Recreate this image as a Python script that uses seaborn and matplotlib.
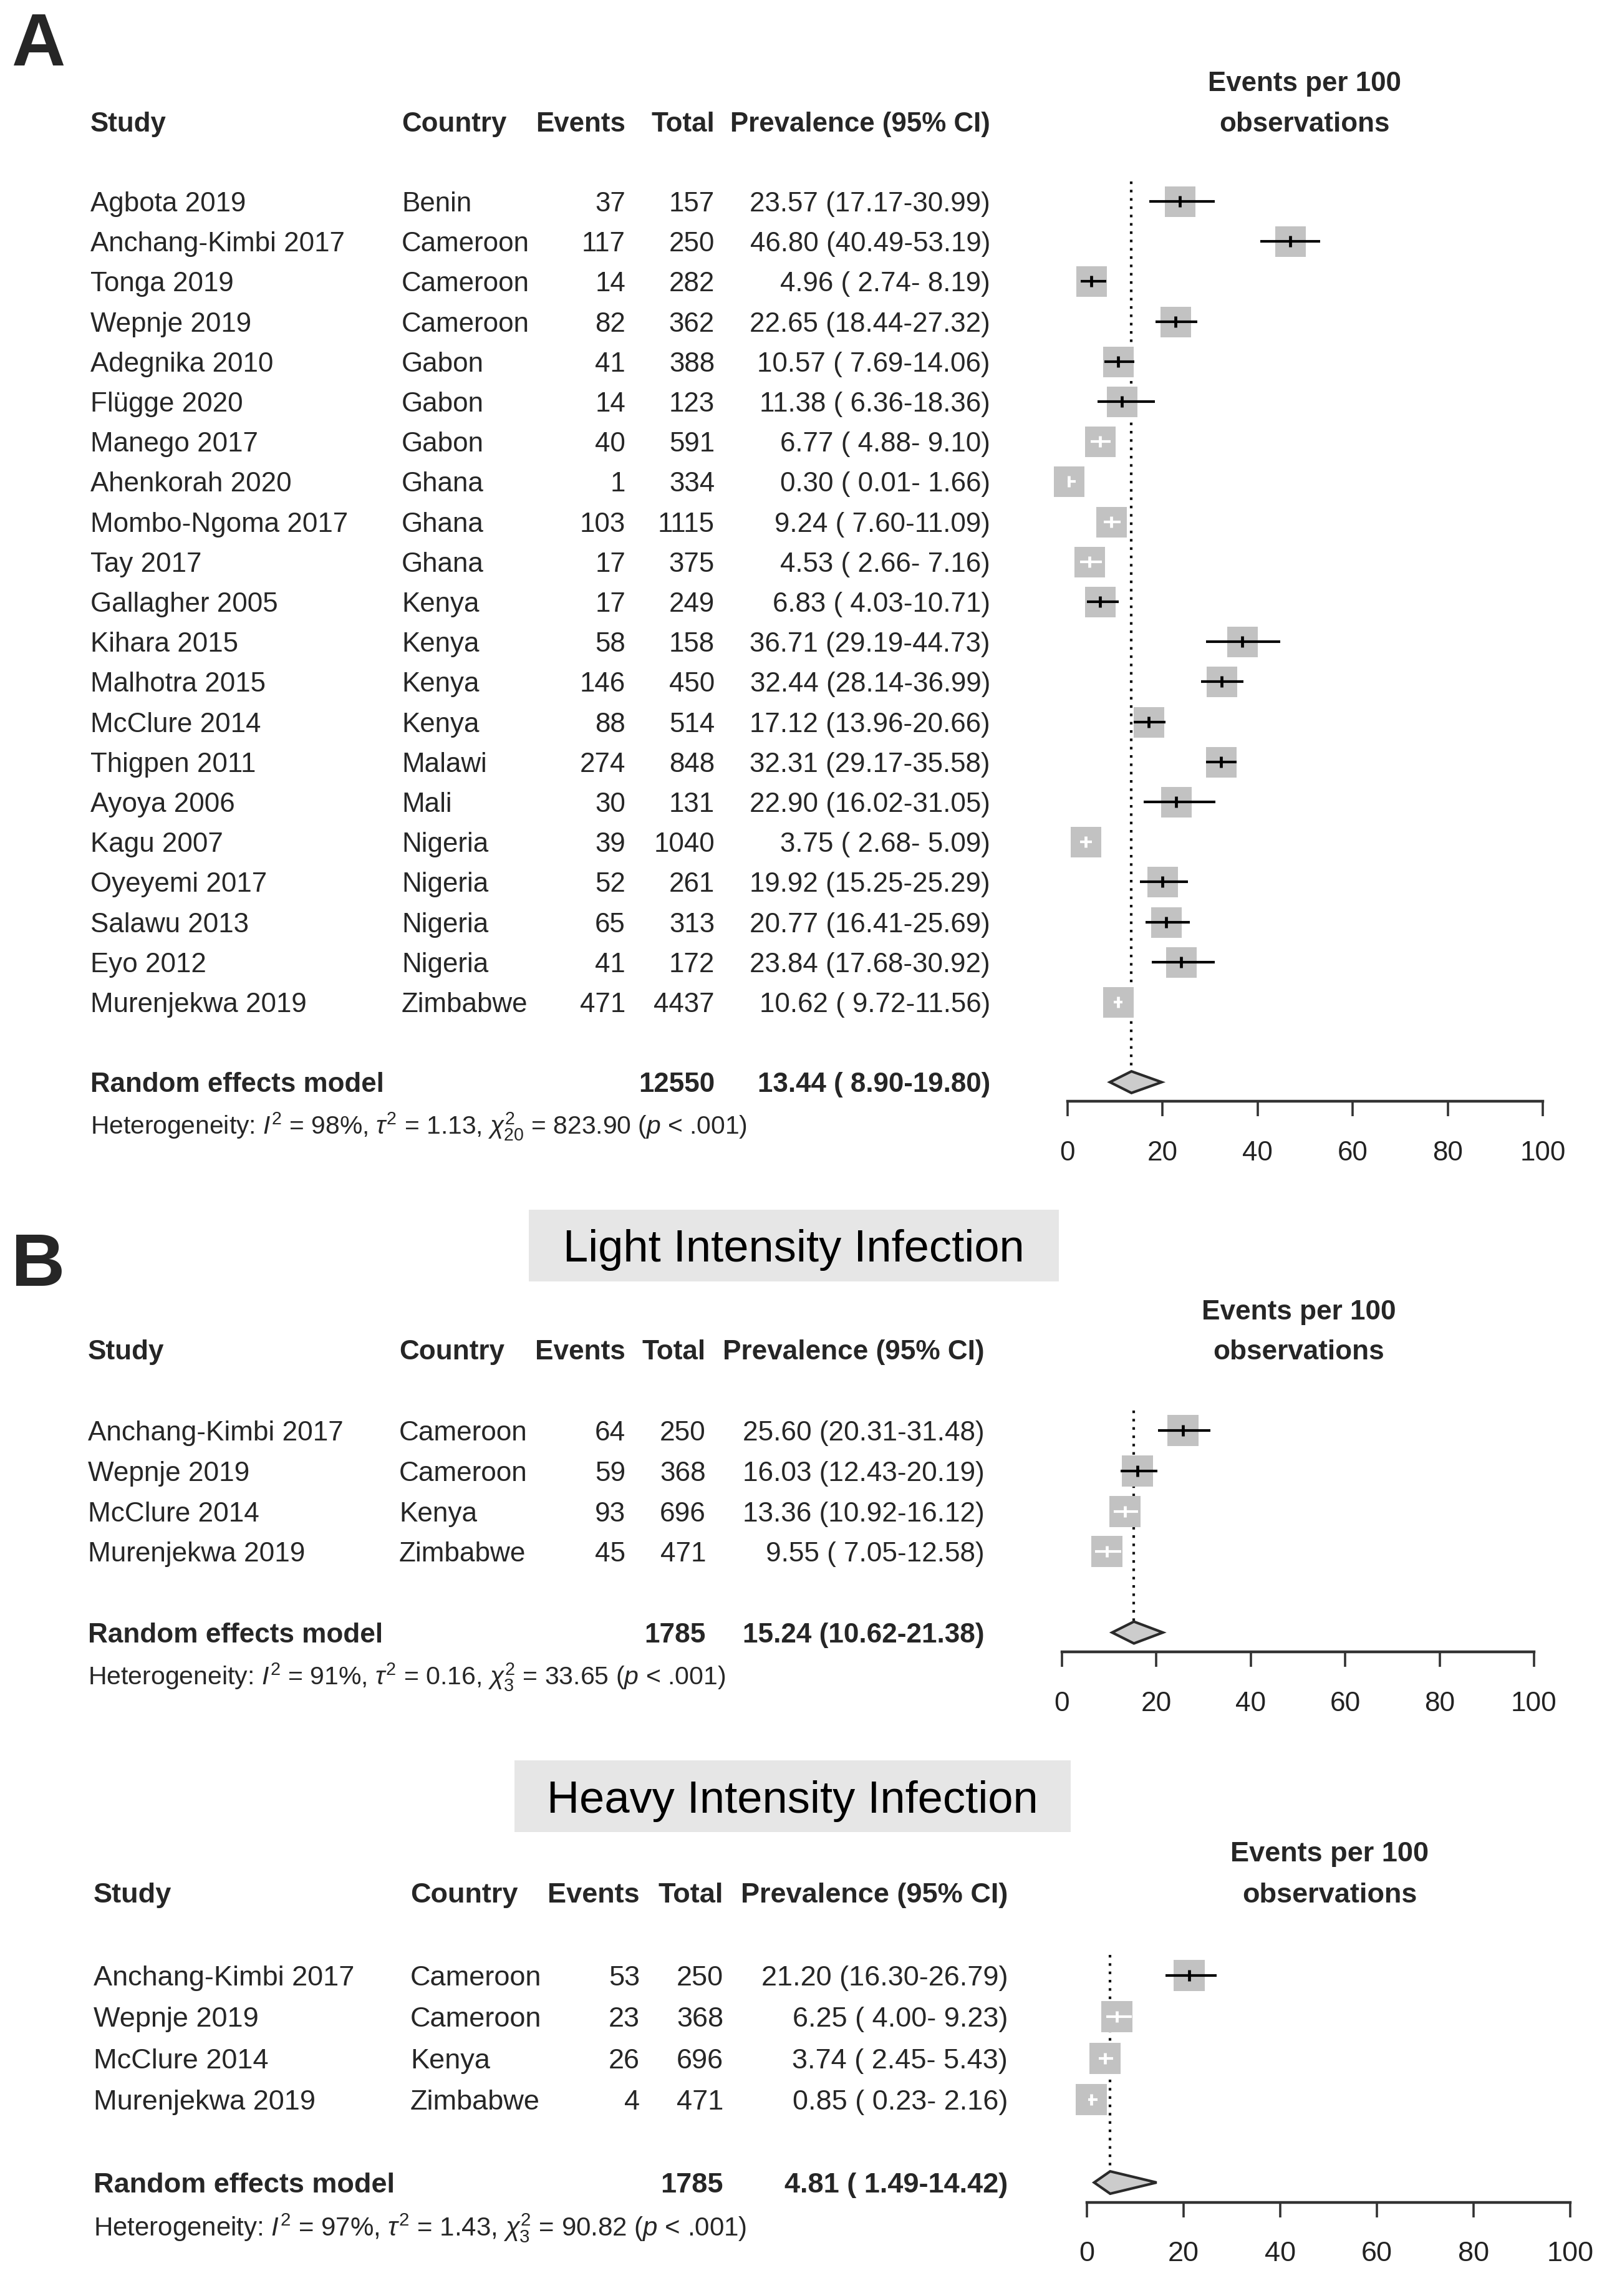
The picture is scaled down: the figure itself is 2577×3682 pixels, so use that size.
import matplotlib
matplotlib.use("Agg")
import matplotlib.pyplot as plt
import matplotlib.transforms as mtransforms
from matplotlib.patches import Rectangle
import seaborn as sns
import pandas as pd


# ==================================================
# Data: panel A (all infections)
# ==================================================

a_study = ["Agbota 2019", "Anchang-Kimbi 2017", "Tonga 2019", "Wepnje 2019",
           "Adegnika 2010", "Flügge 2020", "Manego 2017", "Ahenkorah 2020",
           "Mombo-Ngoma 2017", "Tay 2017", "Gallagher 2005", "Kihara 2015",
           "Malhotra 2015", "McClure 2014", "Thigpen 2011", "Ayoya 2006",
           "Kagu 2007", "Oyeyemi 2017", "Salawu 2013", "Eyo 2012",
           "Murenjekwa 2019"]
a_country = ["Benin", "Cameroon", "Cameroon", "Cameroon", "Gabon", "Gabon",
             "Gabon", "Ghana", "Ghana", "Ghana", "Kenya", "Kenya", "Kenya",
             "Kenya", "Malawi", "Mali", "Nigeria", "Nigeria", "Nigeria",
             "Nigeria", "Zimbabwe"]
a_events = [37, 117, 14, 82, 41, 14, 40, 1, 103, 17, 17, 58, 146, 88, 274,
            30, 39, 52, 65, 41, 471]
a_total = [157, 250, 282, 362, 388, 123, 591, 334, 1115, 375, 249, 158, 450,
           514, 848, 131, 1040, 261, 313, 172, 4437]
a_prev = [23.57, 46.80, 4.96, 22.65, 10.57, 11.38, 6.77, 0.30, 9.24, 4.53,
          6.83, 36.71, 32.44, 17.12, 32.31, 22.90, 3.75, 19.92, 20.77, 23.84,
          10.62]
a_lower = [17.17, 40.49, 2.74, 18.44, 7.69, 6.36, 4.88, 0.01, 7.60, 2.66,
           4.03, 29.19, 28.14, 13.96, 29.17, 16.02, 2.68, 15.25, 16.41, 17.68,
           9.72]
a_upper = [30.99, 53.19, 8.19, 27.32, 14.06, 18.36, 9.10, 1.66, 11.09, 7.16,
           10.71, 44.73, 36.99, 20.66, 35.58, 31.05, 5.09, 25.29, 25.69, 30.92,
           11.56]
a_pooled = [13.44, 8.90, 19.80]
a_pooled_total = 12550
a_het = r"Heterogeneity: $I^2$ = 98%, $\tau^2$ = 1.13, $\chi^2_{20}$ = 823.90 ($p$ < .001)"

# ==================================================
# Data: panel B (light / heavy intensity)
# ==================================================

b_study = ["Anchang-Kimbi 2017", "Wepnje 2019", "McClure 2014", "Murenjekwa 2019"]
b_country = ["Cameroon", "Cameroon", "Kenya", "Zimbabwe"]

light_events = [64, 59, 93, 45]
light_total = [250, 368, 696, 471]
light_prev = [25.60, 16.03, 13.36, 9.55]
light_lower = [20.31, 12.43, 10.92, 7.05]
light_upper = [31.48, 20.19, 16.12, 12.58]
light_pooled = [15.24, 10.62, 21.38]
light_pooled_total = 1785
light_het = r"Heterogeneity: $I^2$ = 91%, $\tau^2$ = 0.16, $\chi^2_{3}$ = 33.65 ($p$ < .001)"

heavy_events = [53, 23, 26, 4]
heavy_total = [250, 368, 696, 471]
heavy_prev = [21.20, 6.25, 3.74, 0.85]
heavy_lower = [16.30, 4.00, 2.45, 0.23]
heavy_upper = [26.79, 9.23, 5.43, 2.16]
heavy_pooled = [4.81, 1.49, 14.42]
heavy_pooled_total = 1785
heavy_het = r"Heterogeneity: $I^2$ = 97%, $\tau^2$ = 1.43, $\chi^2_{3}$ = 90.82 ($p$ < .001)"

x_ticks = [0, 20, 40, 60, 80, 100]


# ==================================================
# Style
# ==================================================

W, H, DPI = 2577, 3682, 100
BOX_COL = "#c2c2c2"
DIAMOND_COL = "#cccccc"
AXIS_COL = "#333333"

sns.set_theme(style="white")
plt.rcParams["font.family"] = ["Liberation Sans", "DejaVu Sans"]
plt.rcParams["mathtext.fontset"] = "custom"
plt.rcParams["mathtext.rm"] = "Liberation Sans"
plt.rcParams["mathtext.it"] = "Liberation Sans:italic"
plt.rcParams["mathtext.bf"] = "Liberation Sans:bold"

fig = plt.figure(figsize=(W / DPI, H / DPI), dpi=DPI)
fig.patch.set_facecolor("white")


def fmt_ci(p, lo, hi):
    return f"{p:5.2f} ({lo:5.2f}-{hi:5.2f})".strip()


def forest(df, pooled, pooled_total, het, lay):
    n = len(df)
    re_row = n + 1
    top, bot = -4, n + 3
    px_top = lay["row0"] - 4 * lay["pitch"]
    px_bot = lay["row0"] + bot * lay["pitch"]
    ax = fig.add_axes([lay["x0"] / W, 1 - px_bot / H,
                       (lay["x100"] - lay["x0"]) / W, (px_bot - px_top) / H])
    ax.set_facecolor("none")
    ax.set_xlim(0, 100)
    ax.set_ylim(bot, top)

    df = df.copy()
    df["row"] = range(n)
    # CI drawn white when it fits inside the grey box
    half = lay["box"] / 2 / ((lay["x100"] - lay["x0"]) / 100)
    inside = ((df["prev"] - df["lower"]) < half) & ((df["upper"] - df["prev"]) < half)
    df["line_col"] = ["white" if i else "black" for i in inside]

    side_pt = lay["box"] * 72 / DPI
    sns.scatterplot(data=df, x="prev", y="row", marker="s", s=side_pt ** 2,
                    color=BOX_COL, linewidth=0, ax=ax, clip_on=False,
                    zorder=2, legend=False)
    ax.hlines(df["row"], df["lower"], df["upper"], colors=df["line_col"],
              lw=3.0, zorder=3, clip_on=False)
    ax.scatter(df["prev"], df["row"], marker="|", s=13 ** 2,
               color=list(df["line_col"]), linewidths=3.4, zorder=4,
               clip_on=False)

    est, lo, hi = pooled
    ax.vlines(est, -0.5, re_row - 0.27, colors="#111111",
              linestyles=(0, (1, 2.2)), lw=3.0, zorder=1)
    ax.fill([lo, est, hi, est], [re_row, re_row - 0.27, re_row, re_row + 0.27],
            facecolor=DIAMOND_COL, edgecolor="#2a2a2a", lw=3.0, zorder=3,
            clip_on=False)

    for sp in ["top", "right", "left"]:
        ax.spines[sp].set_visible(False)
    ax.spines["bottom"].set_position(("data", re_row + 0.48))
    ax.spines["bottom"].set_bounds(0, 100)
    ax.spines["bottom"].set_linewidth(3.2)
    ax.spines["bottom"].set_color(AXIS_COL)
    ax.set_xticks(x_ticks)
    ax.set_yticks([])
    ax.set_xlabel("")
    ax.set_ylabel("")
    ax.tick_params(axis="x", direction="out", length=17, width=2.6,
                   color=AXIS_COL, labelsize=lay["fs"], pad=28,
                   labelcolor="#222222", bottom=True)

    # table columns
    tr = mtransforms.blended_transform_factory(fig.transFigure, ax.transData)
    c_study, c_country, c_events, c_total, c_prev = [c / W for c in lay["cols"]]
    fs = lay["fs"]
    kw = dict(transform=tr, va="center_baseline", fontsize=fs, clip_on=False)

    ax.text(c_study, -2, "Study", ha="left", weight="bold", **kw)
    ax.text(c_country, -2, "Country", ha="left", weight="bold", **kw)
    ax.text(c_events, -2, "Events", ha="right", weight="bold", **kw)
    ax.text(c_total, -2, "Total", ha="right", weight="bold", **kw)
    ax.text(c_prev, -2, "Prevalence (95% CI)", ha="right", weight="bold", **kw)
    ax.text(lay["per100"] / W, -3, "Events per 100", ha="center", weight="bold", **kw)
    ax.text(lay["per100"] / W, -2, "observations", ha="center", weight="bold", **kw)

    for _, r in df.iterrows():
        ax.text(c_study, r["row"], r["study"], ha="left", **kw)
        ax.text(c_country, r["row"], r["country"], ha="left", **kw)
        ax.text(c_events, r["row"], str(r["events"]), ha="right", **kw)
        ax.text(c_total, r["row"], str(r["total"]), ha="right", **kw)
        ax.text(c_prev, r["row"], fmt_ci(r["prev"], r["lower"], r["upper"]),
                ha="right", **kw)

    ax.text(c_study, re_row, "Random effects model", ha="left", weight="bold", **kw)
    ax.text(c_total, re_row, str(pooled_total), ha="right", weight="bold", **kw)
    ax.text(c_prev, re_row, fmt_ci(*pooled), ha="right", weight="bold", **kw)
    ax.text(c_study, re_row + 1, het, ha="left", transform=tr,
            va="center_baseline", fontsize=fs * 0.93, clip_on=False)
    return ax


def title_box(text, x0, x1, y0, y1):
    fig.patches.append(Rectangle((x0 / W, 1 - y1 / H), (x1 - x0) / W,
                                 (y1 - y0) / H, transform=fig.transFigure,
                                 facecolor="#e6e6e6", edgecolor="none"))
    fig.text((x0 + x1) / 2 / W, 1 - (y0 + y1) / 2 / H, text, ha="center",
             va="center_baseline", fontsize=52, color="black")


# ==================================================
# Build panels
# ==================================================

df_a = pd.DataFrame({"study": a_study, "country": a_country, "events": a_events,
                     "total": a_total, "prev": a_prev, "lower": a_lower,
                     "upper": a_upper})
df_light = pd.DataFrame({"study": b_study, "country": b_country,
                         "events": light_events, "total": light_total,
                         "prev": light_prev, "lower": light_lower,
                         "upper": light_upper})
df_heavy = pd.DataFrame({"study": b_study, "country": b_country,
                         "events": heavy_events, "total": heavy_total,
                         "prev": heavy_prev, "lower": heavy_lower,
                         "upper": heavy_upper})

lay_a = dict(row0=323, pitch=64.2, x0=1712, x100=2474,
             cols=(145, 644, 1003, 1146, 1588), per100=2092, fs=31.6, box=49)
lay_light = dict(row0=2294, pitch=64.8, x0=1703, x100=2460,
                 cols=(141, 640, 1003, 1132, 1579), per100=2083, fs=31.8, box=50)
lay_heavy = dict(row0=3168, pitch=66.4, x0=1743, x100=2518,
                 cols=(150, 658, 1026, 1160, 1616), per100=2132, fs=32.5, box=50)

forest(df_a, a_pooled, a_pooled_total, a_het, lay_a)
forest(df_light, light_pooled, light_pooled_total, light_het, lay_light)
forest(df_heavy, heavy_pooled, heavy_pooled_total, heavy_het, lay_heavy)

title_box("Light Intensity Infection", 848, 1698, 1940, 2055)
title_box("Heavy Intensity Infection", 825, 1717, 2823, 2938)

fig.text(18 / W, 1 - 105 / H, "A", fontsize=86, weight="bold", va="baseline")
fig.text(18 / W, 1 - 2062 / H, "B", fontsize=86, weight="bold", va="baseline")

fig.savefig("out.png", dpi=DPI, facecolor="white")
print("saved out.png")
